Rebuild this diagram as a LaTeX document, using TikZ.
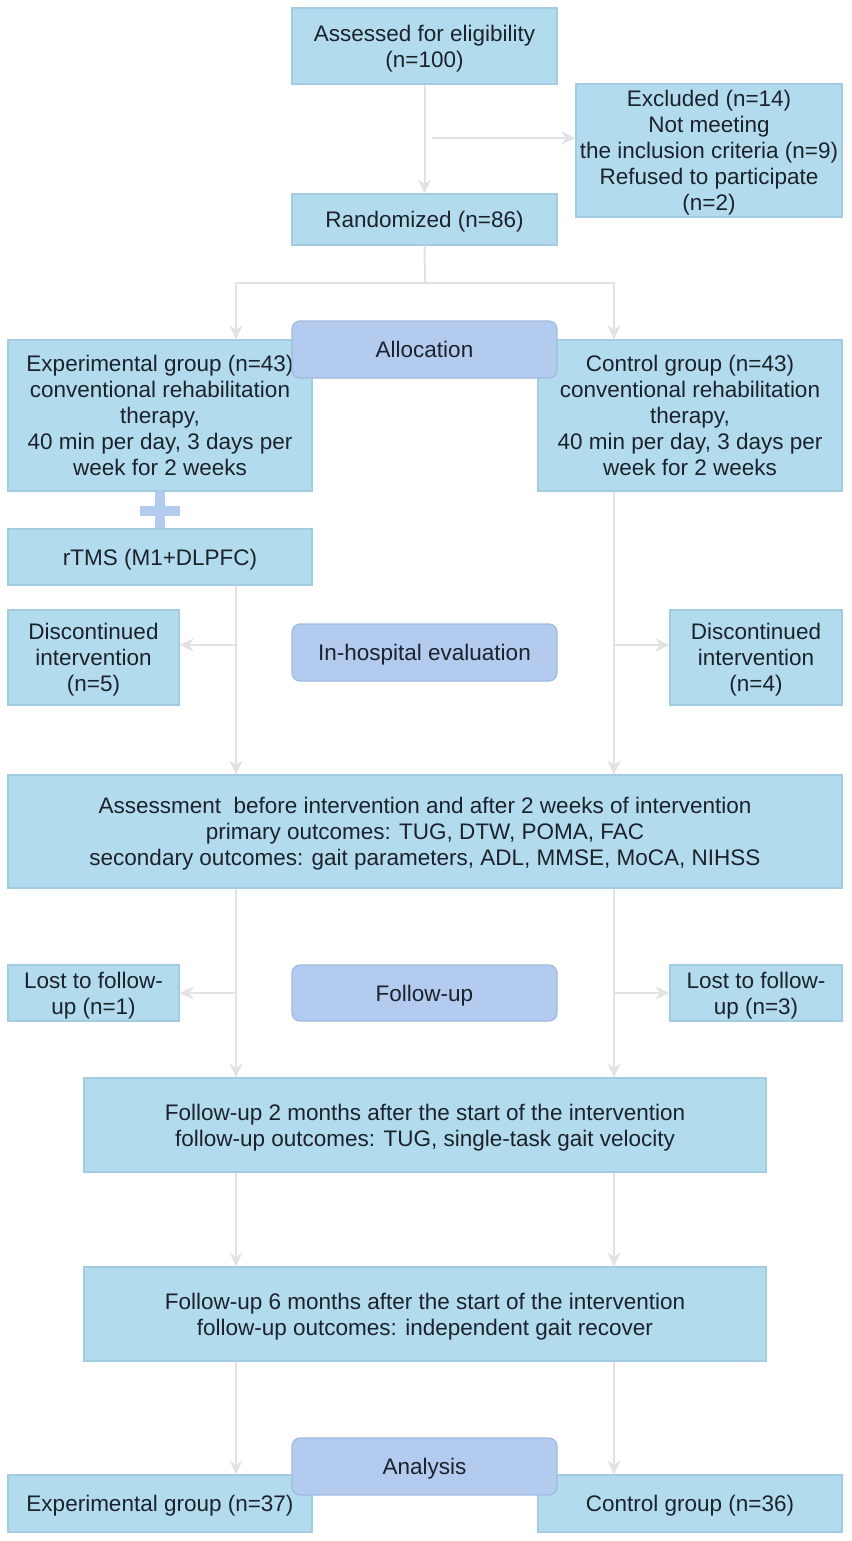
\documentclass[tikz,border=0pt]{standalone}
\usepackage{fontspec}
\setmainfont{Liberation Sans}
\usetikzlibrary{arrows.meta,calc}
\definecolor{boxfill}{RGB}{179,219,238}
\definecolor{boxline}{RGB}{163,203,226}
\definecolor{roundfill}{RGB}{178,203,238}
\definecolor{roundline}{RGB}{160,186,222}
\definecolor{arrowc}{RGB}{226,226,226}
\definecolor{txt}{RGB}{28,34,44}
\begin{document}
\begin{tikzpicture}[x=1pt,y=-1pt,
  box/.style={draw=boxline, fill=boxfill, line width=1.2pt, align=center, text=txt, inner sep=0pt,
    text depth=-3pt, font=\fontsize{22.5}{26}\selectfont},
  rbox/.style={box, draw=roundline, fill=roundfill, rounded corners=8pt},
  sz/.style 2 args={minimum width=#1pt, minimum height=#2pt},
  arr/.style={draw=arrowc, line width=2pt, -{Stealth[length=14pt,width=13pt]}},
  ln/.style={draw=arrowc, line width=2pt}]
\useasboundingbox (0,0) rectangle (851,1541);

\node[box, sz={265}{76}] (assess) at (424.5,46) {Assessed for eligibility\\(n=100)};
\node[box, sz={266}{133}] (excl) at (709,150.5) {Excluded (n=14)\\Not meeting\\the inclusion criteria (n=9)\\Refused to participate\\(n=2)};
\node[box, sz={265}{51}] (rand) at (424.5,219.5) {Randomized (n=86)};
\node[box, sz={304}{151}] (exp) at (160,415.5) {Experimental group (n=43)\\conventional rehabilitation\\therapy,\\40 min per day, 3 days per\\week for 2 weeks};
\node[box, sz={304}{151}] (ctrl) at (690,415.5) {Control group (n=43)\\conventional rehabilitation\\therapy,\\40 min per day, 3 days per\\week for 2 weeks};
\node[rbox, sz={265}{57}] (alloc) at (424.5,349.5) {Allocation};
\node[box, sz={304}{56}] (rtms) at (160,557) {rTMS (M1+DLPFC)};
\fill[roundfill] ($(exp.south)+(-5,0)$) rectangle ($(rtms.north)+(5,0)$);
\fill[roundfill] ($(exp.south)+(-20,14)$) rectangle ($(exp.south)+(20,24)$);
\node[box, sz={171}{95}] (discL) at (93.5,657.5) {Discontinued\\intervention\\(n=5)};
\node[rbox, sz={265}{57}] (inhosp) at (424.5,652.5) {In-hospital evaluation};
\node[box, sz={172}{95}] (discR) at (756,657.5) {Discontinued\\intervention\\(n=4)};
\node[box, sz={834}{113}] (assmt) at (425,831.5) {Assessment\ \ before intervention and after 2 weeks of intervention\\primary outcomes: TUG, DTW, POMA, FAC\\secondary outcomes: gait parameters, ADL, MMSE, MoCA, NIHSS};
\node[box, sz={171}{56}] (lostL) at (93.5,993) {Lost to follow-\\up (n=1)};
\node[rbox, sz={265}{56}] (fu) at (424.5,993) {Follow-up};
\node[box, sz={172}{56}] (lostR) at (756,993) {Lost to follow-\\up (n=3)};
\node[box, sz={682}{94}] (fu2) at (425,1125) {Follow-up 2 months after the start of the intervention\\follow-up outcomes: TUG, single-task gait velocity};
\node[box, sz={682}{94}] (fu6) at (425,1314) {Follow-up 6 months after the start of the intervention\\follow-up outcomes: independent gait recover};
\node[box, sz={304}{57}] (expF) at (160,1503.5) {Experimental group (n=37)};
\node[box, sz={304}{57}] (ctrlF) at (690,1503.5) {Control group (n=36)};
\node[rbox, sz={265}{57}] (ana) at (424.5,1466.5) {Analysis};

\coordinate (L) at (236,0);
\coordinate (R) at (614,0);
\coordinate (sp) at (425,283);
\coordinate (eb) at (432,138);

\draw[arr] (assess) -- (rand);
\draw[arr] (eb) -- (eb -| excl.west);
\draw[ln] (rand.south) -- (sp);
\draw[arr] (sp) -| (L |- exp.north);
\draw[arr] (sp) -| (R |- ctrl.north);

\draw[arr] (L |- rtms.south) -- (L |- assmt.north);
\draw[arr] (L |- 0,645) -- (discL.east |- 0,645);
\draw[arr] (R |- ctrl.south) -- (R |- assmt.north);
\draw[arr] (R |- 0,645) -- (discR.west |- 0,645);

\draw[arr] (L |- assmt.south) -- (L |- fu2.north);
\draw[arr] (L |- 0,993) -- (lostL.east |- 0,993);
\draw[arr] (R |- assmt.south) -- (R |- fu2.north);
\draw[arr] (R |- 0,993) -- (lostR.west |- 0,993);

\draw[arr] (L |- fu2.south) -- (L |- fu6.north);
\draw[arr] (R |- fu2.south) -- (R |- fu6.north);
\draw[arr] (L |- fu6.south) -- (L |- expF.north);
\draw[arr] (R |- fu6.south) -- (R |- ctrlF.north);
\end{tikzpicture}
\end{document}
